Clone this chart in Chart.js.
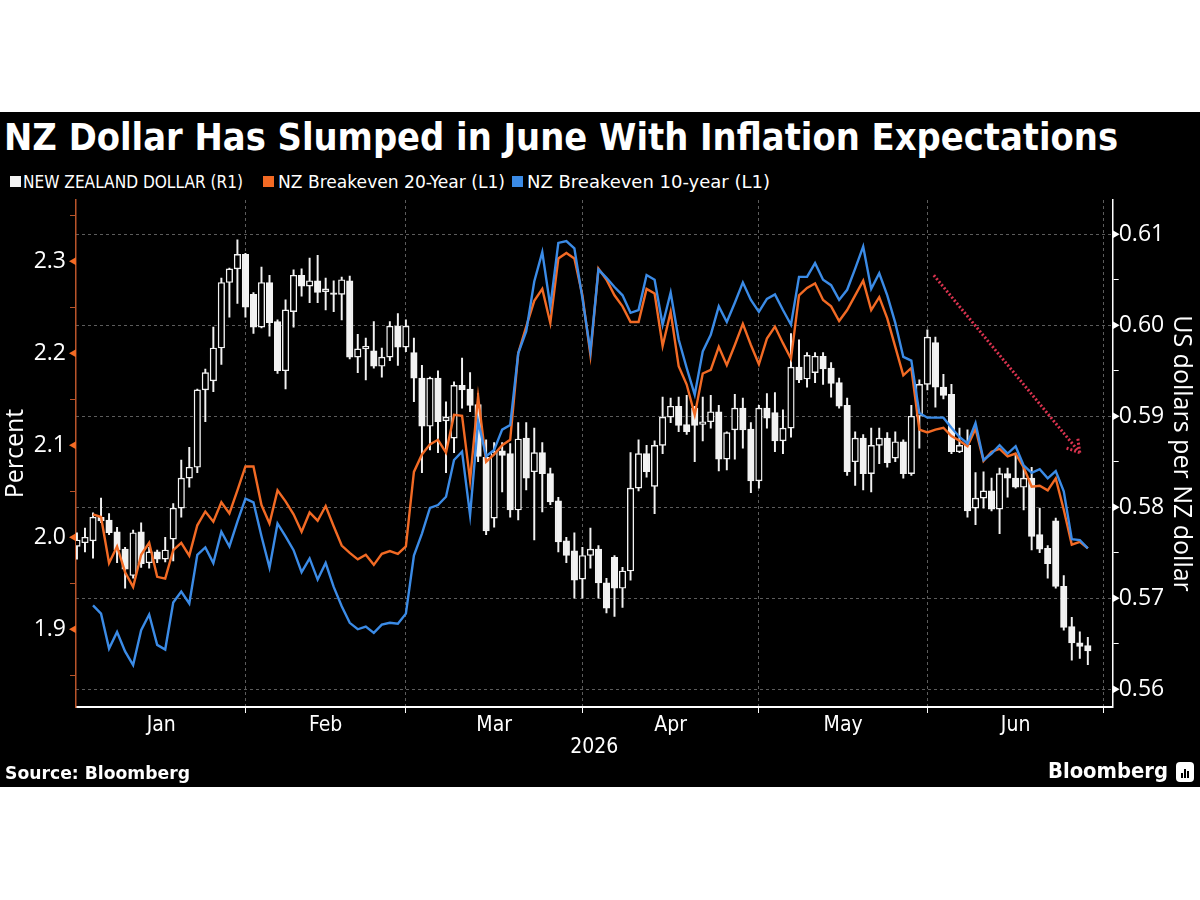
<!DOCTYPE html>
<html>
<head>
<meta charset="utf-8">
<title>NZ Dollar Has Slumped in June With Inflation Expectations</title>
<script src="https://cdn.jsdelivr.net/npm/chart.js@4.4.1/dist/chart.umd.min.js"></script>
<style>
  html, body { margin: 0; padding: 0; background: #fff; }
  #frame { position: absolute; left: 0; top: 112px; width: 1200px; height: 675px; background: #000; overflow: hidden; }
  .txt { position: absolute; color: #fff; font-family: "DejaVu Sans Condensed", "DejaVu Sans", sans-serif; white-space: nowrap; transform-origin: 0 50%; }
  #title { left: 4px; top: 4px; font-weight: bold; font-size: 37px; }
  .lt { top: 60px; font-size: 17px; }
  .sw { position: absolute; top: 64px; width: 11px; height: 11px; }
  #chartBox { position: absolute; left: 0; top: 83px; width: 1200px; height: 570px; }
  #source { left: 5px; top: 651px; font-weight: bold; font-size: 17px; }
  #brand { left: 1048px; top: 646px; font-weight: bold; font-size: 22px; }
  #logo { position: absolute; left: 1176px; top: 650px; width: 18px; height: 20px; background: #fff; border-radius: 4px; }
  #logo span { position: absolute; bottom: 4px; width: 2px; background: #000; }
</style>
</head>
<body>
<div id="frame">
  <div id="title" class="txt">NZ Dollar Has Slumped in June With Inflation Expectations</div>
  <i class="sw" style="left:10px;background:#f2f2f2"></i>
  <span id="lg1" class="txt lt" style="left:23px">NEW ZEALAND DOLLAR (R1)</span>
  <i class="sw" style="left:263px;background:#f26a24"></i>
  <span id="lg2" class="txt lt" style="left:278px">NZ Breakeven 20-Year (L1)</span>
  <i class="sw" style="left:512px;background:#3b8be6"></i>
  <span id="lg3" class="txt lt" style="left:527px">NZ Breakeven 10-year (L1)</span>
  <div id="chartBox"><canvas id="chart" width="1200" height="570"></canvas></div>
  <div id="source" class="txt">Source: Bloomberg</div>
  <div id="brand" class="txt">Bloomberg</div>
  <div id="logo"><span style="left:5px;height:5px"></span><span style="left:8px;height:9px"></span><span style="left:11px;height:7px"></span></div>
</div>
<script>
(function() {
  'use strict';

  // x = trading-day index, 0 = Jan 2 2026
  var monthNames = ['Jan', 'Feb', 'Mar', 'Apr', 'May', 'Jun'];
  var monthStarts = [0, 21, 41, 63, 85, 106, 128];
  var leftTicks = [1.9, 2.0, 2.1, 2.2, 2.3];
  var rightTicks = [0.56, 0.57, 0.58, 0.59, 0.60, 0.61];

  // NEW ZEALAND DOLLAR daily candles (US dollars per NZ dollar)
  var nzdOpen = [
    0.5757, 0.5761, 0.5763, 0.5789, 0.5786, 0.5773, 0.5754, 0.5725, 0.5773, 0.5739,
    0.5751, 0.5743, 0.5765, 0.5799, 0.5832, 0.5844, 0.5929, 0.5939, 0.5975, 0.6047,
    0.6062, 0.6078, 0.6034, 0.5998, 0.6047, 0.6004, 0.5950, 0.6015, 0.6055, 0.6043,
    0.6049, 0.6037, 0.6035, 0.6034, 0.6049, 0.5965, 0.5974, 0.5972, 0.5955, 0.5965,
    0.5999, 0.5976, 0.5970, 0.5942, 0.5889, 0.5942, 0.5895, 0.5876, 0.5934, 0.5930,
    0.5913, 0.5855, 0.5788, 0.5862, 0.5859, 0.5797, 0.5876, 0.5839, 0.5860, 0.5837,
    0.5807, 0.5763, 0.5752, 0.5721, 0.5747, 0.5754, 0.5717, 0.5745, 0.5711, 0.5730,
    0.5821, 0.5859, 0.5823, 0.5868, 0.5899, 0.5911, 0.5891, 0.5909, 0.5891, 0.5894,
    0.5905, 0.5853, 0.5885, 0.5909, 0.5886, 0.5829, 0.5909, 0.5904, 0.5873, 0.5887,
    0.5954, 0.5941, 0.5948, 0.5966, 0.5953, 0.5937, 0.5912, 0.5850, 0.5876, 0.5837,
    0.5868, 0.5876, 0.5854, 0.5872, 0.5837, 0.5900, 0.5935, 0.5981, 0.5932, 0.5924,
    0.5861, 0.5868, 0.5799, 0.5810, 0.5818, 0.5798, 0.5837, 0.5832, 0.5822, 0.5832,
    0.5770, 0.5755, 0.5785, 0.5713, 0.5669, 0.5651, 0.5648
  ];
  var nzdHigh = [
    0.5772, 0.5777, 0.5794, 0.5810, 0.5793, 0.5778, 0.5756, 0.5775, 0.5783, 0.5756,
    0.5753, 0.5767, 0.5804, 0.5852, 0.5866, 0.5930, 0.5952, 0.5998, 0.6052, 0.6063,
    0.6094, 0.6079, 0.6036, 0.6064, 0.6055, 0.6006, 0.6028, 0.6061, 0.6062, 0.6074,
    0.6077, 0.6052, 0.6049, 0.6053, 0.6054, 0.5990, 0.5986, 0.6004, 0.5975, 0.6004,
    0.6013, 0.6006, 0.5986, 0.5956, 0.5943, 0.5950, 0.5916, 0.5938, 0.5964, 0.5948,
    0.5925, 0.5874, 0.5871, 0.5871, 0.5870, 0.5893, 0.5893, 0.5887, 0.5871, 0.5843,
    0.5811, 0.5767, 0.5772, 0.5756, 0.5777, 0.5758, 0.5722, 0.5747, 0.5734, 0.5860,
    0.5874, 0.5868, 0.5873, 0.5921, 0.5920, 0.5921, 0.5923, 0.5911, 0.5921, 0.5923,
    0.5912, 0.5883, 0.5924, 0.5920, 0.5893, 0.5912, 0.5925, 0.5926, 0.5907, 0.5991,
    0.5984, 0.5970, 0.5970, 0.5970, 0.5959, 0.5942, 0.5920, 0.5883, 0.5880, 0.5887,
    0.5887, 0.5882, 0.5883, 0.5874, 0.5912, 0.5940, 0.5995, 0.5987, 0.5946, 0.5935,
    0.5887, 0.5885, 0.5838, 0.5839, 0.5832, 0.5843, 0.5843, 0.5857, 0.5844, 0.5844,
    0.5799, 0.5758, 0.5788, 0.5725, 0.5679, 0.5663, 0.5657
  ];
  var nzdLow = [
    0.5743, 0.5751, 0.5744, 0.5783, 0.5770, 0.5739, 0.5711, 0.5722, 0.5734, 0.5733,
    0.5739, 0.5740, 0.5741, 0.5789, 0.5822, 0.5838, 0.5894, 0.5927, 0.5957, 0.6009,
    0.6024, 0.6009, 0.5991, 0.5997, 0.5988, 0.5947, 0.5930, 0.5998, 0.6032, 0.6025,
    0.6025, 0.6017, 0.6015, 0.6006, 0.5963, 0.5948, 0.5940, 0.5953, 0.5943, 0.5961,
    0.5956, 0.5971, 0.5916, 0.5838, 0.5863, 0.5860, 0.5838, 0.5860, 0.5909, 0.5905,
    0.5850, 0.5770, 0.5778, 0.5817, 0.5789, 0.5786, 0.5819, 0.5764, 0.5795, 0.5803,
    0.5751, 0.5739, 0.5700, 0.5700, 0.5733, 0.5700, 0.5684, 0.5680, 0.5690, 0.5720,
    0.5818, 0.5833, 0.5793, 0.5859, 0.5893, 0.5883, 0.5880, 0.5850, 0.5873, 0.5887,
    0.5840, 0.5841, 0.5853, 0.5865, 0.5816, 0.5821, 0.5887, 0.5861, 0.5859, 0.5877,
    0.5937, 0.5932, 0.5937, 0.5935, 0.5921, 0.5909, 0.5835, 0.5824, 0.5819, 0.5817,
    0.5848, 0.5844, 0.5850, 0.5832, 0.5835, 0.5865, 0.5929, 0.5910, 0.5919, 0.5859,
    0.5860, 0.5789, 0.5781, 0.5799, 0.5796, 0.5771, 0.5811, 0.5821, 0.5797, 0.5753,
    0.5750, 0.5722, 0.5711, 0.5665, 0.5632, 0.5634, 0.5627
  ];
  var nzdClose = [
    0.5764, 0.5767, 0.5789, 0.5785, 0.5772, 0.5753, 0.5732, 0.5772, 0.5738, 0.5751,
    0.5743, 0.5753, 0.5799, 0.5832, 0.5844, 0.5929, 0.5948, 0.5975, 0.6047, 0.6062,
    0.6078, 0.6020, 0.5998, 0.6047, 0.6003, 0.5950, 0.6017, 0.6055, 0.6043, 0.6049,
    0.6036, 0.6040, 0.6034, 0.6050, 0.5965, 0.5974, 0.5977, 0.5955, 0.5965, 0.5999,
    0.5976, 0.5999, 0.5942, 0.5889, 0.5942, 0.5894, 0.5899, 0.5934, 0.5929, 0.5912,
    0.5856, 0.5774, 0.5861, 0.5857, 0.5797, 0.5875, 0.5832, 0.5860, 0.5837, 0.5806,
    0.5762, 0.5747, 0.5720, 0.5747, 0.5754, 0.5717, 0.5689, 0.5711, 0.5730, 0.5821,
    0.5859, 0.5839, 0.5868, 0.5899, 0.5911, 0.5890, 0.5883, 0.5890, 0.5894, 0.5905,
    0.5853, 0.5882, 0.5909, 0.5885, 0.5829, 0.5909, 0.5898, 0.5873, 0.5887, 0.5954,
    0.5940, 0.5967, 0.5966, 0.5952, 0.5936, 0.5911, 0.5839, 0.5876, 0.5837, 0.5868,
    0.5876, 0.5849, 0.5872, 0.5837, 0.5900, 0.5935, 0.5987, 0.5932, 0.5923, 0.5861,
    0.5868, 0.5796, 0.5810, 0.5818, 0.5798, 0.5837, 0.5832, 0.5822, 0.5832, 0.5768,
    0.5754, 0.5738, 0.5713, 0.5668, 0.5651, 0.5647, 0.5642
  ];

  // breakevens (percent), first value sits at index lineStart
  var lineStart = 2;
  var be20 = [
    2.025, 2.022, 1.972, 1.990, 1.962, 1.946, 1.981, 1.994, 1.957, 1.955,
    1.986, 1.994, 1.980, 2.013, 2.028, 2.017, 2.038, 2.026, 2.051, 2.077,
    2.077, 2.035, 2.015, 2.051, 2.039, 2.025, 2.006, 2.027, 2.018, 2.034,
    2.012, 1.991, 1.983, 1.976, 1.981, 1.970, 1.982, 1.985, 1.982, 1.990,
    2.071, 2.090, 2.101, 2.106, 2.092, 2.133, 2.132, 2.062, 2.153, 2.082,
    2.090, 2.100, 2.106, 2.200, 2.229, 2.257, 2.270, 2.233, 2.303, 2.309,
    2.303, 2.263, 2.198, 2.292, 2.280, 2.263, 2.251, 2.234, 2.234, 2.270,
    2.265, 2.208, 2.245, 2.186, 2.166, 2.133, 2.178, 2.182, 2.207, 2.187,
    2.209, 2.232, 2.209, 2.188, 2.216, 2.229, 2.211, 2.194, 2.263, 2.271,
    2.276, 2.258, 2.251, 2.235, 2.247, 2.263, 2.279, 2.247, 2.261, 2.238,
    2.207, 2.176, 2.184, 2.117, 2.114, 2.117, 2.119, 2.110, 2.105, 2.099,
    2.118, 2.083, 2.093, 2.096, 2.088, 2.091, 2.076, 2.055, 2.056, 2.051,
    2.064, 2.030, 1.992, 1.995, 1.988
  ];
  var be10 = [
    1.926, 1.917, 1.879, 1.897, 1.876, 1.861, 1.899, 1.916, 1.883, 1.878,
    1.929, 1.941, 1.928, 1.981, 1.989, 1.972, 2.006, 1.990, 2.017, 2.042,
    2.038, 2.001, 1.967, 2.015, 2.001, 1.986, 1.962, 1.977, 1.954, 1.972,
    1.946, 1.925, 1.907, 1.900, 1.903, 1.896, 1.905, 1.907, 1.906, 1.917,
    1.980, 2.004, 2.032, 2.035, 2.044, 2.084, 2.093, 2.024, 2.126, 2.088,
    2.095, 2.117, 2.122, 2.200, 2.224, 2.278, 2.310, 2.251, 2.320, 2.322,
    2.314, 2.260, 2.202, 2.291, 2.282, 2.272, 2.263, 2.244, 2.247, 2.285,
    2.280, 2.231, 2.266, 2.215, 2.184, 2.155, 2.202, 2.220, 2.251, 2.234,
    2.255, 2.277, 2.258, 2.245, 2.259, 2.264, 2.247, 2.231, 2.283, 2.283,
    2.298, 2.280, 2.274, 2.258, 2.269, 2.292, 2.316, 2.270, 2.287, 2.263,
    2.233, 2.196, 2.192, 2.135, 2.130, 2.130, 2.130, 2.119, 2.109, 2.102,
    2.124, 2.084, 2.091, 2.100, 2.091, 2.099, 2.078, 2.070, 2.074, 2.064,
    2.072, 2.050, 1.998, 1.997, 1.988
  ];

  // dotted trend arrow, in (day index, US dollars per NZ dollar)
  var arrowFrom = [106.8, 0.6055];
  var arrowTo = [125.0, 0.5860];

  var WHITE = '#f2f2f2';
  var ORANGE = '#f26a24';
  var BLUE = '#3b8be6';
  var GRID = '#5c5c5c';
  var tickFont = { family: 'Open Sans', size: 23 };
  var axisTitleFont = { family: 'Open Sans', size: 25 };
  var labelFont = { family: 'DejaVu Sans Condensed', size: 21 };

  // stretch the html texts to the widths they take in the original
  function fitText(id, width) {
    var el = document.getElementById(id);
    var w = el.getBoundingClientRect().width;
    if (w > 0) el.style.transform = 'scaleX(' + (width / w).toFixed(4) + ')';
  }
  fitText('title', 1114);
  fitText('lg1', 220);
  fitText('lg2', 227);
  fitText('lg3', 243);
  fitText('source', 185);
  fitText('brand', 120);

  function withMinors(majors, lo, hi) {
    var step = majors[1] - majors[0];
    var vals = [];
    majors.forEach(function(v) {
      vals.push(v);
      if (v - step / 2 > lo && vals.indexOf(v - step / 2) < 0) vals.push(v - step / 2);
      if (v + step / 2 < hi) vals.push(v + step / 2);
    });
    return vals.sort(function(a, b) { return a - b; });
  }

  function isMajor(v, majors) {
    return majors.some(function(m) { return Math.abs(m - v) < 1e-7; });
  }

  function monthCenters() {
    var c = [];
    for (var k = 0; k < monthNames.length; k++) {
      c.push((monthStarts[k] + monthStarts[k + 1]) / 2);
    }
    return c;
  }

  function isBoundary(v) {
    return monthStarts.indexOf(v) > 0;
  }

  function noEdgePadding(scale) {
    scale.paddingTop = 0;
    scale.paddingBottom = 0;
    scale.paddingLeft = 0;
    scale.paddingRight = 0;
  }

  var bodies = nzdOpen.map(function(o, i) { return { x: i, y: [o, nzdClose[i]] }; });
  var bodyFill = nzdOpen.map(function(o, i) { return nzdClose[i] >= o ? '#000' : WHITE; });
  var wicks = nzdLow.map(function(l, i) { return { x: i, y: [l, nzdHigh[i]] }; });
  var line20 = be20.map(function(v, k) { return { x: lineStart + k, y: v }; });
  var line10 = be10.map(function(v, k) { return { x: lineStart + k, y: v }; });

  var axisMarkers = {
    id: 'axisMarkers',
    afterDraw: function(chart) {
      drawMarkers(chart.ctx, chart.scales.yL, leftTicks, -1, ORANGE);
      drawMarkers(chart.ctx, chart.scales.yR, rightTicks, 1, '#ffffff');
    }
  };

  function drawMarkers(ctx, scale, values, dir, color) {
    var x0 = dir < 0 ? scale.right : scale.left;
    ctx.save();
    ctx.fillStyle = color;
    values.forEach(function(v) {
      var y = scale.getPixelForValue(v);
      ctx.beginPath();
      ctx.moveTo(x0, y - 4);
      ctx.lineTo(x0 + dir * 7, y);
      ctx.lineTo(x0, y + 4);
      ctx.closePath();
      ctx.fill();
    });
    ctx.restore();
  }

  var trendArrow = {
    id: 'trendArrow',
    afterDatasetsDraw: function(chart) {
      var xs = chart.scales.x, ys = chart.scales.yR, ctx = chart.ctx;
      var x1 = xs.getPixelForValue(arrowFrom[0]), y1 = ys.getPixelForValue(arrowFrom[1]);
      var x2 = xs.getPixelForValue(arrowTo[0]), y2 = ys.getPixelForValue(arrowTo[1]);
      var a = Math.atan2(y2 - y1, x2 - x1);
      ctx.save();
      ctx.strokeStyle = '#d9334f';
      ctx.lineWidth = 3;
      ctx.setLineDash([2, 2]);
      ctx.beginPath();
      ctx.moveTo(x1, y1);
      ctx.lineTo(x2, y2);
      [-0.55, 0.55].forEach(function(d) {
        ctx.moveTo(x2, y2);
        ctx.lineTo(x2 - 16 * Math.cos(a + d), y2 - 16 * Math.sin(a + d));
      });
      ctx.stroke();
      ctx.restore();
    }
  };

  var leftRange = [1.8155, 2.3666];
  var rightRange = [0.55805, 0.61377];

  new Chart(document.getElementById('chart'), {
    type: 'bar',
    data: {
      datasets: [{
        type: 'line',
        label: 'NZ Breakeven 10-year (L1)',
        data: line10,
        yAxisID: 'yL',
        borderColor: BLUE,
        borderWidth: 2.4,
        pointRadius: 0,
        tension: 0
      }, {
        type: 'line',
        label: 'NZ Breakeven 20-Year (L1)',
        data: line20,
        yAxisID: 'yL',
        borderColor: ORANGE,
        borderWidth: 2.4,
        pointRadius: 0,
        tension: 0
      }, {
        label: 'NEW ZEALAND DOLLAR (R1)',
        data: bodies,
        yAxisID: 'yR',
        grouped: false,
        barThickness: 6.5,
        minBarLength: 1.5,
        backgroundColor: bodyFill,
        borderColor: WHITE,
        borderWidth: 1.4,
        borderSkipped: false
      }, {
        label: 'wicks',
        data: wicks,
        yAxisID: 'yR',
        grouped: false,
        barThickness: 1.3,
        backgroundColor: WHITE,
        borderWidth: 0
      }]
    },
    options: {
      responsive: false,
      animation: false,
      events: [],
      layout: { padding: { top: 5, left: 0, right: 0, bottom: 0 } },
      plugins: { legend: { display: false }, tooltip: { enabled: false } },
      scales: {
        x: {
          type: 'linear',
          min: -0.12,
          max: 129.1,
          offset: false,
          afterBuildTicks: function(scale) {
            var vals = monthStarts.slice(1).concat(monthCenters());
            scale.ticks = vals.sort(function(a, b) { return a - b; }).map(function(v) { return { value: v }; });
          },
          afterFit: function(scale) { scale.height = 58; noEdgePadding(scale); },
          ticks: {
            autoSkip: false,
            maxRotation: 0,
            padding: 0,
            color: '#fff',
            font: labelFont,
            callback: function(v) {
              var k = monthCenters().indexOf(v);
              return k >= 0 ? monthNames[k] : '';
            }
          },
          grid: {
            offset: false,
            color: function(ctx) { return ctx.tick && isBoundary(ctx.tick.value) ? GRID : 'rgba(0,0,0,0)'; },
            tickColor: function(ctx) { return ctx.tick && isBoundary(ctx.tick.value) ? '#fff' : 'rgba(0,0,0,0)'; },
            tickLength: 6,
            lineWidth: 1
          },
          border: { color: '#fff', width: 2, dash: [3, 3] },
          title: { display: true, text: '2026', color: '#fff', font: labelFont, padding: { top: 0, bottom: 5 } }
        },
        yL: {
          type: 'linear',
          position: 'left',
          min: leftRange[0],
          max: leftRange[1],
          afterBuildTicks: function(scale) {
            scale.ticks = withMinors(leftTicks, leftRange[0], leftRange[1]).map(function(v) { return { value: v }; });
          },
          afterFit: function(scale) { scale.width = 76; noEdgePadding(scale); },
          ticks: {
            color: '#fff',
            font: tickFont,
            padding: 4,
            callback: function(v) { return isMajor(v, leftTicks) ? v.toFixed(1) : ''; }
          },
          grid: {
            drawOnChartArea: false,
            tickLength: 6,
            tickColor: function(ctx) { return ctx.tick && isMajor(ctx.tick.value, leftTicks) ? 'rgba(0,0,0,0)' : '#b9542a'; }
          },
          border: { color: '#b9542a', width: 1.5 },
          title: { display: true, text: 'Percent', color: '#fff', font: axisTitleFont, padding: { top: 1, bottom: 0 } }
        },
        yR: {
          type: 'linear',
          position: 'right',
          min: rightRange[0],
          max: rightRange[1],
          afterBuildTicks: function(scale) {
            scale.ticks = withMinors(rightTicks, rightRange[0], rightRange[1]).map(function(v) { return { value: v }; });
          },
          afterFit: function(scale) { scale.width = 87.3; noEdgePadding(scale); },
          ticks: {
            color: '#fff',
            font: tickFont,
            padding: 0,
            callback: function(v) { return isMajor(v, rightTicks) ? v.toFixed(2) : ''; }
          },
          grid: {
            color: function(ctx) { return ctx.tick && isMajor(ctx.tick.value, rightTicks) ? GRID : 'rgba(0,0,0,0)'; },
            tickColor: function(ctx) { return ctx.tick && isMajor(ctx.tick.value, rightTicks) ? 'rgba(0,0,0,0)' : '#fff'; },
            tickLength: 6
          },
          border: { color: '#fff', width: 1.5, dash: [3, 3] },
          title: { display: true, text: 'US dollars per NZ dollar', color: '#fff', font: axisTitleFont, padding: { top: 4, bottom: 0 } }
        }
      }
    },
    plugins: [trendArrow, axisMarkers]
  });
}());
</script>
</body>
</html>
